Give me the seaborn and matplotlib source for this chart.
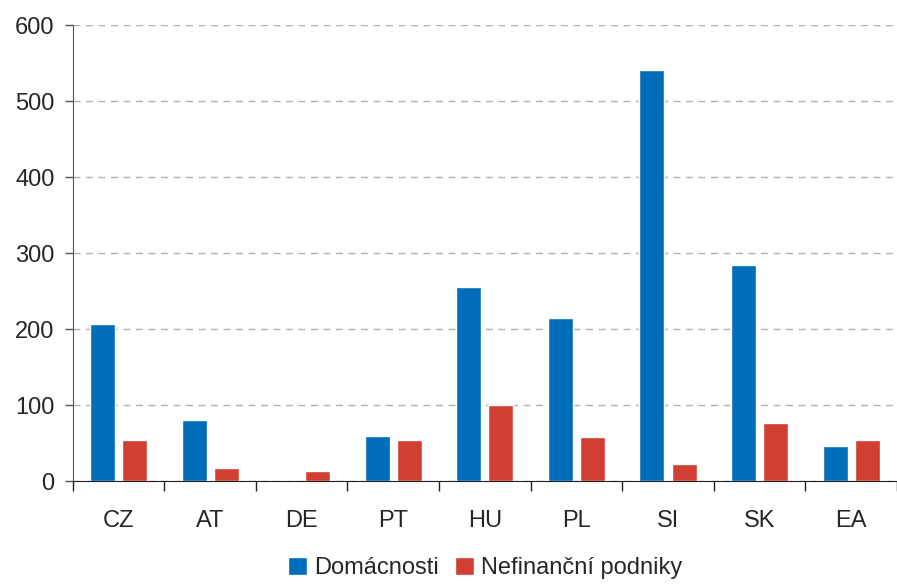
import numpy as np
import pandas as pd
import matplotlib
matplotlib.use("Agg")
import matplotlib.pyplot as plt
import seaborn as sns
from matplotlib.ticker import FixedLocator

# data
countries = ["CZ", "AT", "DE", "PT", "HU", "PL", "SI", "SK", "EA"]
households = [207, 81, 0, 60, 255, 215, 541, 285, 46]
firms = [54, 18, 13, 54, 100, 58, 22, 77, 54]
series_names = ["Domácnosti", "Nefinanční podniky"]
colors = ["#006EBA", "#D03F32"]

df = pd.DataFrame({
    "country": countries * 2,
    "value": households + firms,
    "series": [series_names[0]] * len(countries) + [series_names[1]] * len(countries),
})

sns.set_style("white")
plt.rcParams["font.family"] = ["Liberation Sans", "DejaVu Sans"]

fig = plt.figure(figsize=(8.97, 5.84), dpi=100)
ax = fig.add_axes([0.081, 0.176, 0.919, 0.781])

sns.barplot(data=df, x="country", y="value", hue="series", palette=colors,
            width=0.70, gap=0.22, saturation=1, ax=ax, legend=True)

ax.set_ylim(0, 600)
ax.set_xlim(-0.5, len(countries) - 0.5)
ax.set_yticks(range(0, 601, 100))
ax.yaxis.grid(True, linestyle=(0, (5, 4)), color="#B0B0B0", linewidth=1)
ax.set_axisbelow(True)
ax.set_xlabel("")
ax.set_ylabel("")

for side in ["top", "right"]:
    ax.spines[side].set_visible(False)
ax.spines["left"].set_color("#555555")
ax.spines["bottom"].set_color("#222222")

ax.tick_params(axis="y", left=True, length=6, width=1, color="#555555",
               labelsize=17, pad=7)
ax.tick_params(axis="x", which="major", length=0, labelsize=17, pad=21)
ax.xaxis.set_minor_locator(FixedLocator(np.arange(-0.5, len(countries), 1)))
ax.tick_params(axis="x", which="minor", bottom=True, length=7, width=1, color="#222222")

handles, labels = ax.get_legend_handles_labels()
ax.legend_.remove()
fig.legend(handles, labels, loc="center", bbox_to_anchor=(0.541, 0.028), ncol=2,
           frameon=False, fontsize=17, handlelength=0.8, handleheight=0.8,
           handletextpad=0.3, columnspacing=0.7)

fig.savefig("out.png", dpi=100)
